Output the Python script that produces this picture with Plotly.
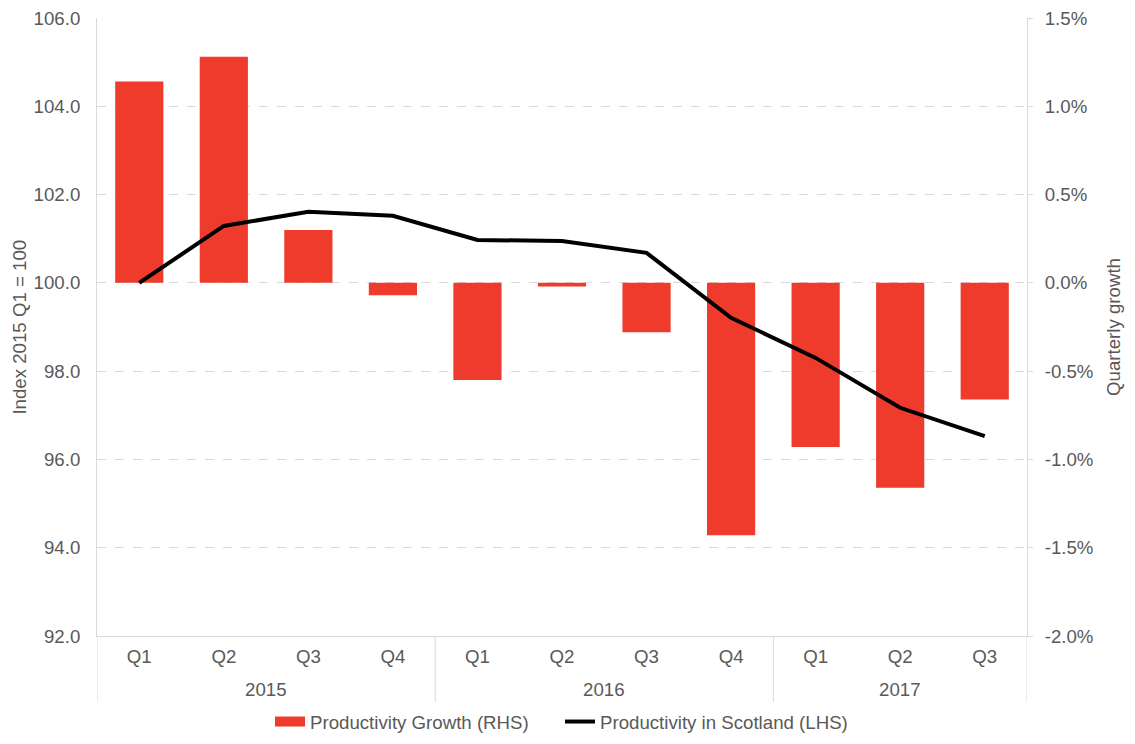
import plotly.graph_objects as go

years = ["2015"] * 4 + ["2016"] * 4 + ["2017"] * 3
quarters = ["Q1", "Q2", "Q3", "Q4", "Q1", "Q2", "Q3", "Q4", "Q1", "Q2", "Q3"]
growth_pct = [1.14, 1.28, 0.30, -0.07, -0.55, -0.02, -0.28, -1.43, -0.93, -1.16, -0.66]
productivity_index = [100.0, 101.29, 101.61, 101.52, 100.97, 100.95, 100.68, 99.21, 98.30, 97.17, 96.53]
year_labels = ["2015", "2016", "2017"]
left_ticks = [92, 94, 96, 98, 100, 102, 104, 106]
left_ticktext = ["92.0", "94.0", "96.0", "98.0", "100.0", "102.0", "104.0", "106.0"]
right_ticks = [-2.0, -1.5, -1.0, -0.5, 0.0, 0.5, 1.0, 1.5]
right_ticktext = ["-2.0%", "-1.5%", "-1.0%", "-0.5%", "0.0%", "0.5%", "1.0%", "1.5%"]

FONT = "Liberation Sans, Arial, sans-serif"
TXT = "#595959"
GRID = "#d9d9d9"
RED = "#EF3B2C"
FS = 18.67

cats = [f"{y} {q}" for y, q in zip(years, quarters)]

fig = go.Figure()
fig.add_trace(go.Bar(
    x=cats, y=growth_pct,
    name="Productivity Growth (RHS)", marker=dict(color=RED, line=dict(width=0)),
    yaxis="y", showlegend=False, legendgroup="g",
))
# legend entry drawn as a wide red block, like the original
fig.add_trace(go.Scatter(
    x=[None], y=[None], mode="lines", name="Productivity Growth (RHS)",
    line=dict(color=RED, width=10), legendgroup="g", yaxis="y",
))
fig.add_trace(go.Scatter(
    x=cats, y=productivity_index,
    name="Productivity in Scotland (LHS)", mode="lines",
    line=dict(color="black", width=4), yaxis="y2",
))

# year group labels and dividers
shapes = []
annotations = []
n = len(cats)
start = 0
for yl in year_labels:
    cnt = years.count(yl)
    end = start + cnt
    annotations.append(dict(
        x=(start + end - 1) / 2, xref="x", y=-0.0858, yref="paper",
        text=yl, showarrow=False, yanchor="middle", xanchor="center",
        font=dict(size=FS, color=TXT, family=FONT),
    ))
    shapes.append(dict(type="line", xref="x", yref="paper", x0=end - 0.5, x1=end - 0.5,
                       y0=0, y1=-0.107, line=dict(color=GRID, width=1)))
    start = end
shapes.append(dict(type="line", xref="x", yref="paper", x0=-0.5, x1=-0.5,
                   y0=0, y1=-0.107, line=dict(color=GRID, width=1)))

annotations.append(dict(x=-0.0843, xref="paper", y=0.5, yref="paper", text="Index 2015 Q1 = 100",
                        textangle=-90, showarrow=False, xanchor="center", yanchor="middle",
                        font=dict(size=FS, color=TXT, family=FONT)))
annotations.append(dict(x=1.0924, xref="paper", y=0.5, yref="paper", text="Quarterly growth",
                        textangle=-90, showarrow=False, xanchor="center", yanchor="middle",
                        font=dict(size=FS, color=TXT, family=FONT)))

fig.update_layout(
    width=1135, height=744,
    margin=dict(l=89, r=116, t=10, b=116, autoexpand=False),
    paper_bgcolor="white", plot_bgcolor="white",
    font=dict(family=FONT, size=FS, color=TXT),
    bargap=0.43,
    showlegend=True,
    legend=dict(orientation="h", x=0.186, xanchor="left", y=-0.139, yanchor="middle",
                font=dict(size=FS, color=TXT), traceorder="normal", itemwidth=30,
                entrywidth=245, entrywidthmode="pixels"),
    shapes=shapes,
    annotations=annotations,
    xaxis=dict(
        type="category", range=[-0.5, n - 0.5], tickvals=cats, ticktext=quarters,
        showline=True, linecolor=GRID, linewidth=1, showgrid=False, automargin=False,
        ticks="outside", ticklen=4, tickcolor="rgba(0,0,0,0)",
        tickfont=dict(size=FS, color=TXT),
    ),
    yaxis=dict(
        side="right", range=[-2.0, 1.5], tickvals=right_ticks, ticktext=right_ticktext,
        showgrid=True, gridcolor=GRID, griddash="dash", zeroline=False,
        showline=True, linecolor=GRID, linewidth=1, ticks="outside", ticklen=5, tickcolor=GRID,
        ticklabelstandoff=8, automargin=False, ticklabeloverflow="allow",
        tickfont=dict(size=FS, color=TXT),
    ),
    yaxis2=dict(
        side="left", overlaying="y", range=[92, 106], tickvals=left_ticks, ticktext=left_ticktext,
        showgrid=False, zeroline=False, showline=True, linecolor=GRID, linewidth=1,
        ticks="", ticklabelstandoff=12, automargin=False, ticklabeloverflow="allow",
        tickfont=dict(size=FS, color=TXT),
    ),
)

fig.write_html("out.html")
